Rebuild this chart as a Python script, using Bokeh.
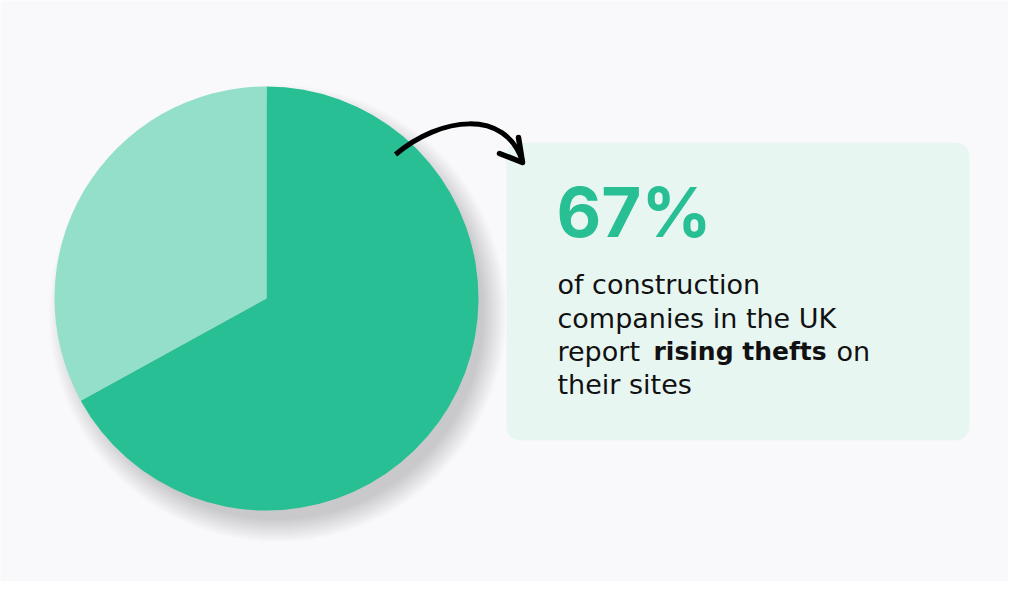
import numpy as np
from bokeh.plotting import figure
from bokeh.models import Range1d, ColumnDataSource
from bokeh.core.properties import value
from bokeh.embed import file_html
from bokeh.resources import INLINE

# ---- data ----
categories = ["Report rising thefts", "Other"]
shares = [67, 33]
colors = ["#27BF93", "#93DFC9"]
headline = f"{shares[0]}%"
body_lines = ["of construction", "companies in the UK", "report", "their sites"]
bold_phrase = "rising thefts"
tail_word = "on"

H = 597
p = figure(width=1008, height=581, output_backend="svg", toolbar_location=None,
           x_range=Range1d(0, 1008), y_range=Range1d(H - 581, H),
           min_border=0, background_fill_color="#F9F9FB", border_fill_color="#F9F9FB")
p.axis.visible = False
p.grid.visible = False
p.outline_line_color = None

def Y(y):
    return H - y

cx, cy, r = 266, Y(298), 212

# soft shadow (down-right)
for i in range(24):
    p.circle(x=cx + 11, y=cy - 15, radius=r - 6 + i * 1.0, fill_color="black",
             fill_alpha=0.0085, line_color=None)

# pie wedges from data
frac = np.array(shares) / sum(shares)
ends = np.pi / 2 - np.concatenate([[0], np.cumsum(frac)[:-1]]) * 2 * np.pi
starts = ends - frac * 2 * np.pi
src = ColumnDataSource(dict(start=starts, end=ends, color=colors, cat=categories))
p.wedge(x=cx, y=cy, radius=r, start_angle="start", end_angle="end",
        fill_color="color", line_color=None, source=src)

# info box
p.quad(left=506, right=969, top=Y(142), bottom=Y(440), border_radius=14,
       fill_color="#E8F6F2", line_color=None)

# arrow
p.bezier(x0=395, y0=Y(154), x1=522, y1=Y(161), cx0=440, cy0=Y(116),
         cx1=505, cy1=Y(108), line_color="black", line_width=5)
p.multi_line(xs=[[518, 522, 499]], ys=[[Y(137), Y(162), Y(153)]],
             line_color="black", line_width=5.5, line_cap="round", line_join="round")

p.text(x=[556], y=[Y(211)], text=[headline], text_font=value("Inter"),
       text_font_size="69px", text_font_style="bold", text_color="#27BF93",
       text_baseline="alphabetic")

font = value("DejaVu Sans")
baselines = [284, 318, 351, 384]
for line, b in zip(body_lines, baselines):
    p.text(x=[557], y=[Y(b)], text=[line], text_font=font, text_font_size="27px",
           text_color="#111111", text_baseline="alphabetic")
p.text(x=[653], y=[Y(351)], text=[bold_phrase], text_font=font, text_font_size="25px",
       text_font_style="bold", text_color="#111111", text_baseline="alphabetic")
p.text(x=[836], y=[Y(351)], text=[tail_word], text_font=font, text_font_size="27px",
       text_color="#111111", text_baseline="alphabetic")

open("out.html", "w").write(file_html(p, INLINE))
